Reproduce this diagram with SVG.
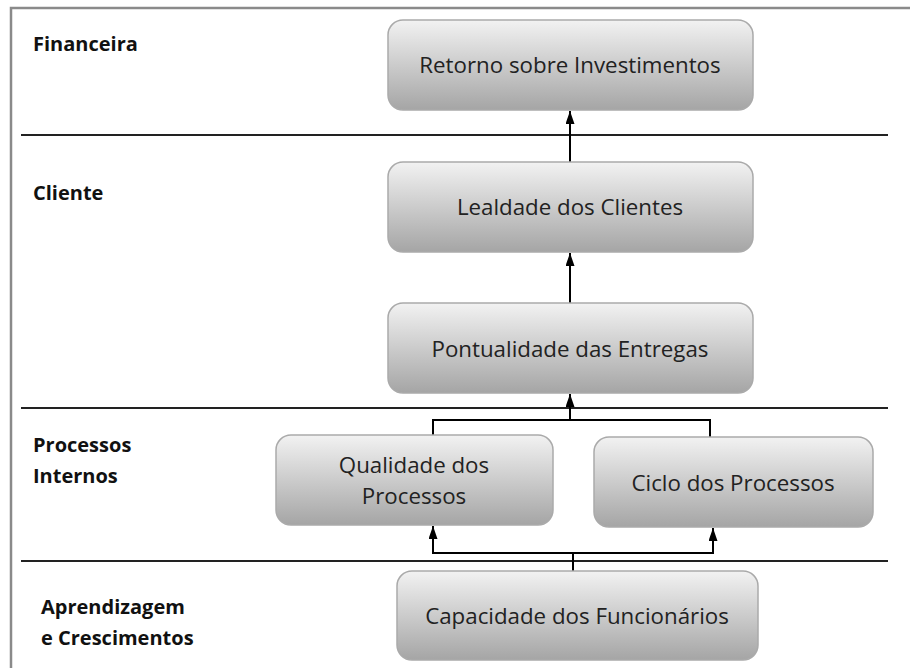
<svg xmlns="http://www.w3.org/2000/svg" width="917" height="668" viewBox="0 0 917 668">
<style>
.frame{stroke:#8a8a8a;stroke-width:2.5;fill:none}
.sep{stroke:#222;stroke-width:2;fill:none}
.node rect{fill:url(#g);stroke:#aaaaaa;stroke-width:1.5}
.node text{font-family:"Open Sans","DejaVu Sans",sans-serif;font-size:22.3px;fill:#222;text-anchor:middle}
.lane{font-family:"Open Sans","DejaVu Sans",sans-serif;font-size:20px;font-weight:bold;fill:#111}
.conn{stroke:#000;stroke-width:2;fill:none}
</style>
<defs>
<linearGradient id="g" x1="0" y1="0" x2="0" y2="1">
<stop offset="0" stop-color="#f2f2f2"/>
<stop offset="1" stop-color="#a5a5a5"/>
</linearGradient>
<marker id="ah" markerWidth="13" markerHeight="9" refX="13" refY="4.5" orient="auto-start-reverse" markerUnits="userSpaceOnUse" viewBox="0 0 13 9">
<path d="M0,0 L13,4.5 L0,9 Z" fill="#000"/>
</marker>
</defs>
<rect width="917" height="668" fill="#fff"/>
<g id="frame">
<path class="frame" d="M11,680 L11,8 L910,8"/>
<line class="sep" x1="21" y1="135" x2="888" y2="135"/>
<line class="sep" x1="21" y1="408" x2="888" y2="408"/>
<line class="sep" x1="21" y1="561" x2="888" y2="561"/>
</g>
<g id="lanes">
<text class="lane" x="33" y="51">Financeira</text>
<text class="lane" x="33" y="200">Cliente</text>
<text class="lane" x="33" y="452">Processos</text>
<text class="lane" x="33" y="483">Internos</text>
<text class="lane" x="41" y="614">Aprendizagem</text>
<text class="lane" x="41" y="645">e Crescimentos</text>
</g>
<g id="connectors">
<line class="conn" x1="570" y1="162" x2="570" y2="111" marker-end="url(#ah)"/>
<line class="conn" x1="570" y1="303" x2="570" y2="253" marker-end="url(#ah)"/>
<path class="conn" d="M433,435 L433,420 L710,420 L710,437"/>
<line class="conn" x1="570" y1="420" x2="570" y2="394" marker-end="url(#ah)"/>
<line class="conn" x1="573" y1="571" x2="573" y2="553"/>
<path class="conn" d="M433,526 L433,553 L713,553 L713,528" marker-start="url(#ah)" marker-end="url(#ah)"/>
</g>
<g id="n-retorno" class="node">
<rect x="388" y="20" width="365" height="90" rx="15"/>
<text x="570" y="73">Retorno sobre Investimentos</text>
</g>
<g id="n-lealdade" class="node">
<rect x="388" y="162" width="365" height="90" rx="15"/>
<text x="570" y="215">Lealdade dos Clientes</text>
</g>
<g id="n-pontualidade" class="node">
<rect x="388" y="303" width="365" height="90" rx="15"/>
<text x="570" y="357">Pontualidade das Entregas</text>
</g>
<g id="n-qualidade" class="node">
<rect x="276" y="435" width="277" height="90" rx="15"/>
<text x="414" y="473">Qualidade dos</text>
<text x="414" y="504">Processos</text>
</g>
<g id="n-ciclo" class="node">
<rect x="594" y="437" width="279" height="90" rx="15"/>
<text x="733" y="491">Ciclo dos Processos</text>
</g>
<g id="n-capacidade" class="node">
<rect x="397" y="571" width="361" height="89" rx="15"/>
<text x="577" y="624">Capacidade dos Funcionários</text>
</g>
</svg>
